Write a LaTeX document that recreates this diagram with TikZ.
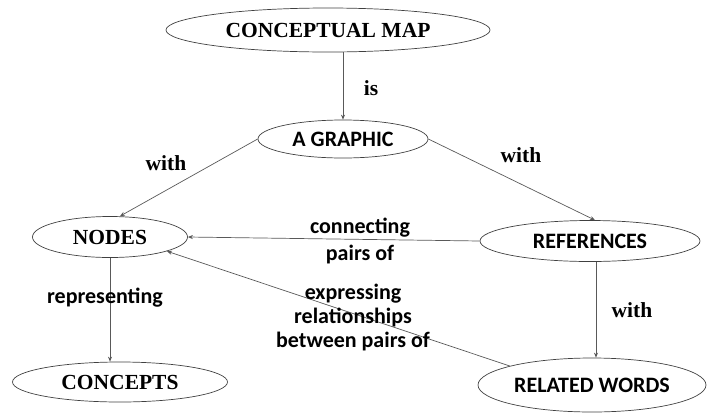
\documentclass[tikz,border=0pt]{standalone}
\usepackage{fontspec}
\setmainfont{Liberation Serif}
\newfontfamily\calib{Carlito}
\usetikzlibrary{shapes.geometric,arrows.meta,calc}
\begin{document}
\begin{tikzpicture}[x=1pt,y=-1pt,
  ell/.style={draw=black!75,line width=0.7pt,ellipse,inner sep=0pt},
  tms/.style={font=\fontsize{21.5}{24}\selectfont\bfseries},
  clb/.style={font=\fontsize{22}{24}\selectfont\calib\bfseries},
  conn/.style={draw=black!65,line width=0.7pt,-{Stealth[length=5pt,width=4pt]}},
  lbl/.style={align=center,inner sep=0pt}]
\useasboundingbox (0,0) rectangle (707,413);
\node[ell,tms,minimum width=324pt,minimum height=44pt] (cm) at (328,30) {CONCEPTUAL MAP};
\node[ell,clb,minimum width=170pt,minimum height=38pt] (ag) at (343,139) {A GRAPHIC};
\node[ell,tms,minimum width=155pt,minimum height=41pt] (nodes) at (110,237) {NODES};
\node[ell,clb,minimum width=220pt,minimum height=41pt] (ref) at (590,241) {REFERENCES};
\node[ell,tms,minimum width=215pt,minimum height=40pt] (con) at (120,382) {CONCEPTS};
\node[ell,clb,minimum width=228pt,minimum height=54pt] (rw) at (592,385) {RELATED WORDS};

\draw[conn] (ag.north |- cm.south) -- (ag.north);
\draw[conn] (ag.west) -- ([xshift=10pt]nodes.north);
\draw[conn] (ag.east) -- ([xshift=5pt]ref.north);
\draw[conn] (ref.west) -- (nodes.east);
\draw[conn] (rw.167) -- (nodes.-14);
\draw[conn] ([xshift=6pt]ref.south) -- ([xshift=4pt]rw.north);
\draw[conn] (nodes.south) -- (nodes.south |- con.north);

\node[lbl,tms] (l1) at (371,88) {is};
\node[lbl,tms] (l2) at (166,163) {with};
\node[lbl,tms] (l3) at (521,155) {with};
\node[lbl,tms] (l4) at (632,310) {with};
\node[lbl,font=\fontsize{22}{27}\selectfont\calib\bfseries] (l5) at (360,241) {connecting\\pairs of};
\node[lbl,clb] (l6) at (105,298) {representing};
\node[lbl,clb] (l7) at (353,318) {expressing\\relationships\\between pairs of};
\end{tikzpicture}
\end{document}
